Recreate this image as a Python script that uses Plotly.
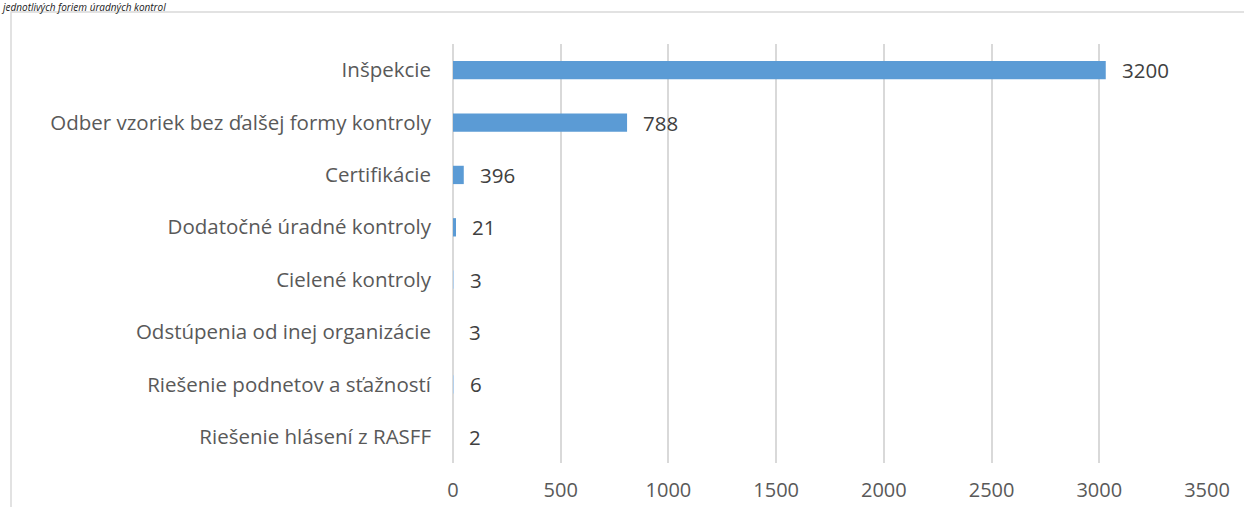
import plotly.graph_objects as go

# Data (top to bottom as in the reference)
categories = [
    "Inšpekcie",
    "Odber vzoriek bez ďalšej formy kontroly",
    "Certifikácie",
    "Dodatočné úradné kontroly",
    "Cielené kontroly",
    "Odstúpenia od inej organizácie",
    "Riešenie podnetov a sťažností",
    "Riešenie hlásení z RASFF",
]
# bar lengths as drawn in the picture
bar_values = [3030, 808, 50, 14, 3, 0, 4, 0]
# data labels as printed in the picture
label_texts = ["3200", "788", "396", "21", "3", "3", "6", "2"]
x_ticks = [0, 500, 1000, 1500, 2000, 2500, 3000, 3500]
title_text = "jednotlivých foriem úradných kontrol"

W, H = 1244, 507
L, R, T, B = 453, 37, 44, 44
pw, ph = W - L - R, H - T - B

def px_x(p):
    return (p - L) / pw

def px_y(p):
    return (H - B - p) / ph

FONT = "Open Sans"
BAR = "#5b9bd5"
# sub-pixel bars look faint (anti-aliased) in the reference
bar_colors = [BAR if v >= 10 else "#b4d0ec" for v in bar_values]

fig = go.Figure()
fig.add_trace(go.Bar(
    x=bar_values,
    y=categories,
    orientation="h",
    width=0.35,
    marker=dict(color=bar_colors, line=dict(width=0)),
    hoverinfo="x+y",
))

for v, c, t in zip(bar_values, categories, label_texts):
    fig.add_annotation(
        x=v, y=c, text=t, xref="x", yref="y",
        xanchor="left", yanchor="middle", xshift=14, showarrow=False,
        font=dict(family=FONT, size=20.5, color="#404040"),
    )

# title strip at the top (kept fully visible)
fig.add_annotation(
    x=px_x(0), y=px_y(-1), xref="paper", yref="paper",
    xanchor="left", yanchor="top", showarrow=False, borderpad=0,
    text="<i>" + title_text + "</i>",
    font=dict(family=FONT, size=10, color="#1a1a1a"),
)

# chart border
fig.add_shape(
    type="rect", xref="paper", yref="paper",
    x0=px_x(11), x1=px_x(1260), y0=px_y(520), y1=px_y(12),
    line=dict(color="#d9d9d9", width=1.5), fillcolor="rgba(0,0,0,0)",
    layer="below",
)

fig.update_layout(
    width=W, height=H,
    margin=dict(l=L, r=R, t=T, b=B, pad=0, autoexpand=False),
    paper_bgcolor="white", plot_bgcolor="white",
    showlegend=False,
    font=dict(family=FONT, color="#595959"),
    xaxis=dict(
        range=[0, 3500], tickvals=x_ticks,
        ticktext=[str(v) for v in x_ticks],
        showgrid=True, gridcolor="#d9d9d9", gridwidth=1.5,
        zeroline=True, zerolinecolor="#d9d9d9", zerolinewidth=1.5,
        showline=False, ticks="", ticklabelstandoff=13,
        tickfont=dict(family=FONT, size=20, color="#595959"),
        fixedrange=True,
    ),
    yaxis=dict(
        categoryorder="array", categoryarray=categories[::-1],
        showgrid=False, zeroline=False, showline=False, ticks="",
        ticklabelstandoff=21,
        tickfont=dict(family=FONT, size=20.5, color="#595959"),
        fixedrange=True,
    ),
)

fig.write_html(
    "out.html",
    config={"displayModeBar": False},
    post_script="document.body.style.margin='0';document.body.style.overflow='hidden';",
)
